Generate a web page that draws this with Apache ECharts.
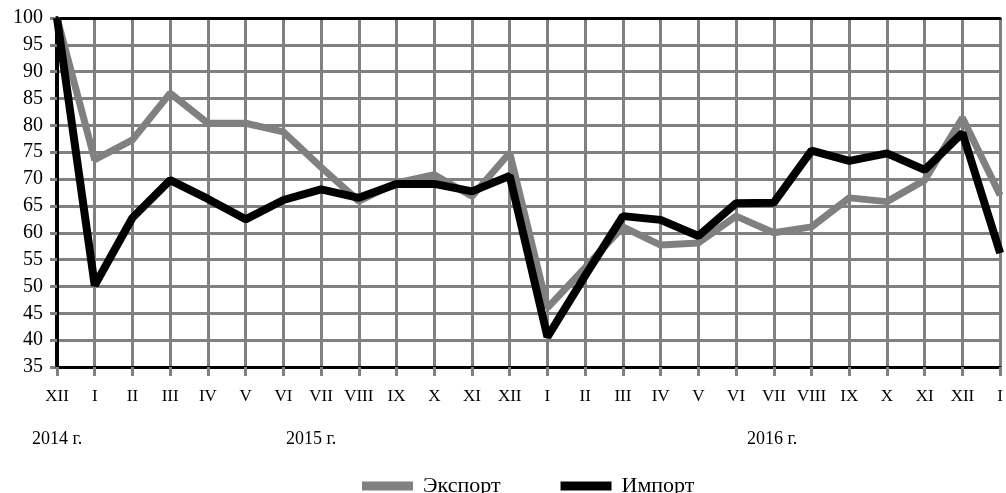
<!DOCTYPE html>
<html>
<head>
<meta charset="utf-8">
<script src="https://cdn.jsdelivr.net/npm/echarts@6/dist/echarts.min.js"></script>
<style>
  html, body { margin: 0; padding: 0; background: #fff; }
  #chart { width: 1006px; height: 493px; }
</style>
</head>
<body>
<div id="chart"></div>
<script>
// месяцы: XII 2014 ... I 2017
const months = ['XII', 'I', 'II', 'III', 'IV', 'V', 'VI', 'VII', 'VIII', 'IX', 'X', 'XI', 'XII',
  'I', 'II', 'III', 'IV', 'V', 'VI', 'VII', 'VIII', 'IX', 'X', 'XI', 'XII', 'I']
const exportData = [100, 73.6, 77.3, 86, 80.4, 80.4, 78.8, 72.2, 65.9, 69.3, 70.8, 66.8, 74.9,
  46, 53.5, 61.1, 57.7, 58.1, 63.1, 60, 61.1, 66.5, 65.8, 69.8, 81.4, 67]
const importData = [100, 50.2, 62.8, 69.8, 66.3, 62.5, 66.1, 68.1, 66.5, 69.1, 69.1, 67.7, 70.6,
  40.6, 52, 63.1, 62.4, 59.4, 65.5, 65.6, 75.3, 73.4, 74.8, 71.7, 78.6, 56.2]
const yearLabels = ['2014 г.', '2015 г.', '2016 г.']

const font = 'Liberation Serif'
const gridGray = '#808080'

let chart = echarts.init(document.getElementById('chart'))

chart.setOption({
  animation: false,
  grid: { left: 57, right: 1, top: 18, bottom: 126 },
  legend: {
    left: 362,
    top: 475,
    padding: 0,
    icon: 'rect',
    itemWidth: 51,
    itemHeight: 9,
    itemGap: 60,
    textStyle: { fontFamily: font, fontSize: 22, color: '#000', padding: [0, 0, 0, 5] },
    data: ['Экспорт', 'Импорт']
  },
  graphic: [
    { type: 'text', left: 32, top: 430, style: { text: yearLabels[0], font: '18px "Liberation Serif"', fill: '#000' } },
    { type: 'text', left: 286, top: 430, style: { text: yearLabels[1], font: '18px "Liberation Serif"', fill: '#000' } },
    { type: 'text', left: 747, top: 430, style: { text: yearLabels[2], font: '18px "Liberation Serif"', fill: '#000' } }
  ],
  xAxis: [
    {
      type: 'category',
      data: months,
      boundaryGap: false,
      z: 2,
      axisLine: { lineStyle: { color: '#000', width: 3 } },
      axisTick: { length: 9, lineStyle: { color: gridGray, width: 3 } },
      axisLabel: { interval: 0, margin: 21, fontFamily: font, fontSize: 17, color: '#000' },
      splitLine: {
        show: true,
        interval: (i) => i !== 0,
        lineStyle: { color: gridGray, width: 3 }
      }
    },
    {
      // верхняя рамка
      type: 'category',
      data: months,
      boundaryGap: false,
      position: 'top',
      z: 2,
      axisLine: { lineStyle: { color: '#000', width: 3 } },
      axisTick: { show: false },
      axisLabel: { show: false },
      splitLine: { show: false }
    }
  ],
  yAxis: {
    type: 'value',
    min: 35,
    max: 100,
    interval: 5,
    axisLine: { show: true, lineStyle: { color: '#000', width: 4 } },
    axisTick: { show: true, length: 7, lineStyle: { color: gridGray, width: 3 } },
    axisLabel: { margin: 14, fontFamily: font, fontSize: 20, color: '#000' },
    splitLine: { lineStyle: { color: gridGray, width: 3 } }
  },
  series: [
    {
      name: 'Экспорт',
      type: 'line',
      data: exportData,
      symbol: 'none',
      z: 3,
      itemStyle: { color: '#808080' },
      lineStyle: { color: '#808080', width: 7 }
    },
    {
      name: 'Импорт',
      type: 'line',
      data: importData,
      symbol: 'none',
      z: 4,
      itemStyle: { color: '#000' },
      lineStyle: { color: '#000', width: 8 }
    }
  ]
})
</script>
</body>
</html>
